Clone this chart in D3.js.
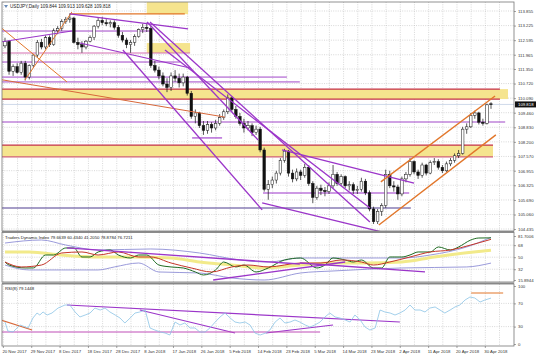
<!DOCTYPE html>
<html>
<head>
<meta charset="UTF-8" />
<title>USDJPY Daily</title>
<style>
  body { margin: 0; background: #fff; overflow: hidden; }
  svg { display: block; font-family: "Liberation Sans", Arial, sans-serif; }
  .ax text { font-size: 4.3px; fill: #333; }
  .ax path, .ax line { stroke: #666; stroke-width: 0.6; }
  .grid { stroke: #bdbdbd; stroke-width: 0.6; stroke-dasharray: 1 1.3; }
</style>
</head>
<body>
<svg width="536" height="358"></svg>
<script src="https://d3js.org/d3.v7.min.js"></script>
<script>
// ---- data ----
const dateLabels = ["20 Nov 2017", "29 Nov 2017", "8 Dec 2017", "18 Dec 2017", "28 Dec 2017", "8 Jan 2018",
  "17 Jan 2018", "26 Jan 2018", "5 Feb 2018", "14 Feb 2018", "23 Feb 2018", "5 Mar 2018", "14 Mar 2018",
  "23 Mar 2018", "2 Apr 2018", "11 Apr 2018", "20 Apr 2018", "30 Apr 2018"];
const dateBars = [0, 7, 14, 21, 28, 35, 42, 49, 56, 63, 70, 77, 84, 91, 98, 105, 112, 119];

const priceTicks = [113.855, 113.225, 112.595, 111.965, 111.350, 110.720, 110.090, 109.460,
  108.830, 108.200, 107.570, 106.955, 106.325, 105.690, 105.060, 104.435];
const tdiTicks = [81.7006, 68, 50, 32, 15.8944];
const rsiTicks = [100, 70, 30, 0];

// open, high, low, close per daily bar
const ohlc = [
  [112.35,112.70,112.25,112.55],[112.55,112.60,111.10,111.25],[111.25,111.55,111.05,111.45],[111.45,111.60,111.15,111.20],
  [111.20,111.70,111.10,111.60],[111.60,111.70,110.85,111.00],[111.00,111.55,110.90,111.50],[111.50,112.00,111.40,111.95],
  [111.95,112.60,111.85,112.50],[112.50,112.65,112.20,112.30],[112.30,112.80,112.20,112.70],[112.70,112.80,112.30,112.40],
  [112.40,113.10,112.35,113.00],[113.00,113.20,112.85,113.10],[113.10,113.50,113.00,113.40],[113.40,113.60,113.30,113.50],
  [113.50,113.75,113.35,113.55],[113.55,113.60,112.45,112.50],[112.50,112.70,112.20,112.40],[112.40,112.55,112.05,112.30],
  [112.30,112.60,112.20,112.55],[112.55,112.80,112.50,112.70],[112.70,113.25,112.60,113.20],[113.20,113.55,113.10,113.45],
  [113.45,113.60,113.25,113.35],[113.35,113.50,113.20,113.30],[113.30,113.45,113.15,113.35],[113.35,113.45,113.05,113.15],
  [113.15,113.25,112.70,112.80],[112.80,112.95,112.50,112.60],[112.60,112.70,112.25,112.40],[112.40,112.60,112.05,112.50],
  [112.50,112.85,112.35,112.75],[112.75,113.10,112.70,113.05],[113.05,113.30,112.90,113.15],[113.15,113.35,112.95,113.10],
  [113.10,113.20,111.40,111.50],[111.50,111.70,111.20,111.30],[111.30,111.45,110.90,111.05],[111.05,111.20,110.60,110.70],
  [110.70,110.95,110.35,110.55],[110.55,111.20,110.40,111.05],[111.05,111.30,110.80,110.95],[110.95,111.15,110.55,110.75],
  [110.75,111.15,110.60,111.00],[111.00,111.05,110.20,110.30],[110.30,110.40,109.20,109.30],[109.30,109.60,109.00,109.45],
  [109.45,109.50,108.80,108.90],[108.90,109.10,108.50,108.70],[108.70,109.10,108.55,108.95],[108.95,109.05,108.60,108.80],
  [108.80,109.15,108.70,109.00],[109.00,109.40,108.90,109.25],[109.25,109.60,109.15,109.50],[109.50,110.25,109.40,110.10],
  [110.10,110.15,109.50,109.60],[109.60,109.75,109.20,109.30],[109.30,109.45,108.90,109.00],[109.00,109.20,108.60,108.80],
  [108.80,109.10,108.70,108.90],[108.90,109.00,108.45,108.60],[108.60,108.90,108.50,108.75],[108.75,108.85,107.75,107.85],
  [107.85,107.95,106.05,106.15],[106.15,106.55,105.70,106.35],[106.35,106.70,106.20,106.55],[106.55,106.95,106.40,106.85],
  [106.85,107.50,106.75,107.40],[107.40,107.90,107.30,107.80],[107.80,107.85,106.70,106.85],[106.85,107.00,106.45,106.60],
  [106.60,107.05,106.50,106.90],[106.90,107.00,106.55,106.75],[106.75,107.25,106.65,107.10],[107.10,107.20,106.30,106.40],
  [106.40,106.50,105.55,105.80],[105.80,106.30,105.70,106.20],[106.20,106.35,105.90,106.10],[106.10,106.25,105.85,106.05],
  [106.05,106.45,105.95,106.30],[106.30,107.20,106.20,106.80],[106.80,106.90,106.30,106.40],[106.40,106.80,106.30,106.70],
  [106.70,106.75,106.20,106.30],[106.30,106.50,106.10,106.35],[106.35,106.45,105.95,106.10],[106.10,106.30,105.95,106.15],
  [106.15,106.65,106.05,106.50],[106.50,106.60,105.90,106.00],[106.00,106.10,105.20,105.30],[105.30,105.40,104.65,104.75],
  [104.75,105.30,104.65,105.20],[105.20,105.55,105.00,105.45],[105.45,107.00,105.35,106.80],[106.80,106.95,106.20,106.30],
  [106.30,106.50,106.05,106.25],[106.25,106.35,105.70,105.95],[105.95,106.70,105.85,106.60],[106.60,106.90,106.45,106.80],
  [106.80,107.50,106.70,107.35],[107.35,107.40,106.80,106.90],[106.90,107.00,106.60,106.75],[106.75,107.30,106.65,107.20],
  [107.20,107.25,106.75,106.85],[106.85,107.40,106.80,107.30],[107.30,107.50,107.20,107.35],[107.35,107.45,107.00,107.10],
  [107.10,107.20,106.85,106.95],[106.95,107.35,106.90,107.25],[107.25,107.50,107.15,107.40],[107.40,107.70,107.30,107.60],
  [107.60,107.85,107.50,107.70],[107.70,108.85,107.65,108.75],[108.75,109.00,108.55,108.85],[108.85,109.45,108.80,109.35],
  [109.35,109.55,109.20,109.45],[109.45,109.50,108.95,109.05],[109.05,109.20,108.90,109.00],[109.00,109.85,108.95,109.80],
  [109.844,109.913,109.628,109.818]
];
const lastPrice = 109.818;

// Traders Dynamic Index lines as [bar, value]
const tdiUpper = [[0,71.2],[9,75.7],[15,68.2],[23,60.8],[36,62.3],[48,56.3],[58,45.8],[65,42.8],[73,48.8],[85,48.8],[98,48.8],[105,53.3],[114,65.3],[120,79.66]];
const tdiLower = [[0,38.3],[6,30.9],[14,30.9],[23,30.9],[27,35.4],[33,41.3],[38,27.9],[48,26.4],[56,18.9],[64,15.9],[73,26.4],[81,29.4],[98,33.9],[114,35.4],[120,41.2]];
const tdiMid = [[0,57.8],[6,57.8],[14,53.3],[23,50.3],[31,50.3],[41,48.8],[48,42.8],[56,38.3],[64,33.9],[73,38.3],[81,41.3],[89,41.3],[98,42.8],[106,50.3],[114,56.5],[120,60.43]];
const tdiGreen = [[0,42.8],[1,38.3],[5,33.9],[7,33.9],[10,53.3],[12,53.3],[15,63.8],[17,63.8],[19,50.3],[21,50.3],[23,57.8],[26,60.8],[28,53.3],[31,48.8],[33,53.3],[35,53.3],[38,38.3],[41,35.4],[44,33.9],[47,27.9],[49,23.4],[52,30.9],[54,42.8],[57,35.4],[59,38.3],[62,27.9],[65,33.9],[69,45.8],[73,48.8],[77,33.9],[79,38.3],[81,48.8],[84,45.8],[86,42.8],[88,45.8],[91,33.9],[93,33.9],[95,50.3],[98,50.3],[100,53.3],[102,57.8],[105,57.8],[107,65.3],[110,60.8],[112,65.3],[115,75.7],[117,78.7],[120,78.88]];
const tdiRed = [[0,42.8],[4,35.4],[9,38.3],[14,56.3],[19,57.8],[23,53.3],[28,57.8],[33,50.3],[36,50.3],[41,41.3],[46,33.9],[51,27.9],[56,35.4],[60,38.3],[65,35.4],[73,41.3],[78,41.3],[83,45.8],[88,42.8],[91,38.3],[95,42.8],[100,50.3],[105,57.8],[110,60.8],[115,68.2],[120,76.72]];

// RSI(8) as [bar, value]
const rsiPts = [[0,37.9],[0.7,22.4],[2,20.7],[3.7,32.8],[5.7,27.6],[6.9,44.8],[7.9,53.4],[8.6,50],[9.4,55.2],[10.4,50],[11.6,53.4],[13.1,62],[14.8,67.2],[16,67.2],[17.3,55.2],[18.5,46.6],[19.8,50],[21,53.4],[22.2,62],[23.5,58.6],[24.7,62],[25.9,55.2],[27.2,50],[28.4,44.8],[29.6,36.2],[30.9,44.8],[32.1,53.4],[33.3,55.2],[34.6,58.6],[35.8,27.6],[37,24.1],[38.3,20.7],[39.5,19],[40.7,15.5],[42,37.9],[43.2,32.8],[44.4,36.2],[45.7,27.6],[46.9,27.6],[48.1,20.7],[49.4,20.7],[50.6,27.6],[51.9,37.9],[53.1,46.6],[54.3,53.4],[55.6,44.8],[56.8,37.9],[58,36.2],[59.3,37.9],[60.5,32.8],[61.7,19],[63,15.5],[64.4,19],[65.4,24.1],[66.7,37.9],[67.9,44.8],[69.1,36.2],[70.4,37.9],[71.6,41.4],[72.8,37.9],[74.1,32.8],[75.3,29.3],[76.5,32.8],[77.8,37.9],[79,46.6],[80.2,53.4],[81.5,46.6],[82.7,44.8],[84,41.4],[85.2,37.9],[86.4,50],[87.7,41.4],[88.9,29.3],[90.1,24.1],[91.4,27.6],[92.6,58.6],[93.8,55.2],[95.1,53.4],[96.3,50],[97.5,53.4],[98.8,58.6],[100,67.2],[101.2,58.6],[102.5,58.6],[103.7,55.2],[104.9,62],[106.2,63.8],[107.4,58.6],[108.6,53.4],[109.9,58.6],[111.1,63.8],[112.3,67.2],[113.6,75.9],[114.8,81],[116,79.3],[117.3,72.4],[118.5,75.9],[120,79.14]];

// drawn objects on the price chart
const zones = [ // [bar1, bar2, priceLow, priceHigh]
  [-1, 124.2, 110.05, 110.48], [-1, 120.5, 107.55, 108.06], [35, 45.2, 113.72, 114.4], [35, 45.7, 112.04, 112.47]
];
const levels = [ // [price, bar1, bar2, colour, width]
  [112.99, -1, 35.8, "#a046c8", 1], [112.04, -1, 45.7, "#d46fb0", 1], [111.65, -1, 43.2, "#a046c8", 1],
  [111.00, -1, 69.6, "#a046c8", 1], [110.79, -1, 72.8, "#a046c8", 1],
  [110.48, -1, 122.2, "#c53048", 1.2], [110.05, -1, 122.2, "#c53048", 1.2],
  [108.06, -1, 120.5, "#c53048", 1.2], [107.55, -1, 120.5, "#d0607a", 1.2],
  [109.06, -1, 123.5, "#a046c8", 1.1], [108.37, 46.2, 53.6, "#9b35c9", 1.1],
  [105.99, 63.7, 99.8, "#9b35c9", 1.1], [105.34, -1, 100.2, "#4e3d8f", 1.1],
  [113.73, 16, 44.4, "#e2762a", 1.1]
];
const trendLines = [ // [bar1, price1, bar2, price2, colour, width]
  [-1, 113.14, 15.3, 110.79, "#e2762a", 1], [4.9, 110.87, 16.5, 113.81, "#e2762a", 1],
  [-1, 110.89, 54.3, 109.27, "#d8683a", 1],
  [16, 113.73, 45.2, 113.08, "#9b35c9", 1.2], [-1, 112.52, 16.5, 112.99, "#9b35c9", 1.1],
  [18.5, 112.47, 45.7, 111.39, "#9b35c9", 1.1],
  [29.1, 112.17, 63.5, 105.26, "#9b35c9", 1.3], [35.1, 113.38, 62.5, 108.28, "#9b35c9", 1.3],
  [35.8, 113.38, 90.1, 104.74, "#9b35c9", 1.3], [39.5, 112.17, 90.1, 105.34, "#9b35c9", 1.3],
  [68.4, 107.85, 101, 106.42, "#9b35c9", 1.3], [63.5, 105.56, 95.1, 104.22, "#9b35c9", 1.3],
  [92.8, 106.47, 121, 110.18, "#e2762a", 1.4], [92.3, 104.61, 121.2, 108.5, "#e2762a", 1.4]
];
const tdiLines = [[15.3, 63.8, 72.8, 39.8], [51.4, 15.9, 84, 42.8], [72.8, 41.3, 103.7, 27.9]];
const rsiLines = [ // [bar1, v1, bar2, v2, colour]
  [15.3, 67.2, 97.5, 37.9, "#9b35c9"], [33.3, 58.6, 56.8, 19, "#9b35c9"], [64.4, 19, 81, 32.8, "#9b35c9"],
  [-1, 20.7, 77.8, 20.7, "#c04fb8"], [-1, 41.4, 6.7, 24.1, "#d8683a"], [115.1, 87.9, 123, 87.9, "#e2762a"]
];

// ---- layout ----
const svg = d3.select("svg");
const L = 2, R = 514;
const main = { top: 2, bottom: 231 }, tdiP = { top: 232.5, bottom: 282 }, rsiP = { top: 284, bottom: 346 };

const x = d3.scaleLinear().domain([0, 120]).range([5, 491]);
const yP = d3.scaleLinear().domain([104.435, 113.855]).range([229, 11]);
const yT = d3.scaleLinear().domain([15.8944, 81.7006]).range([280, 236]);
const yR = d3.scaleLinear().domain([0, 100]).range([344, 286]);

function panel(id, p) {
  svg.append("clipPath").attr("id", id).append("rect")
    .attr("x", L).attr("y", p.top).attr("width", R - L).attr("height", p.bottom - p.top);
  return svg.append("g").attr("clip-path", `url(#${id})`);
}
const gMain = panel("cm", main), gTdi = panel("ct", tdiP), gRsi = panel("cr", rsiP);

// vertical grid in all panels (at date ticks and half way)
const vGrid = [];
dateBars.forEach((b) => { vGrid.push(b); vGrid.push(b + 3.5); });
[[gMain, main], [gTdi, tdiP], [gRsi, rsiP]].forEach(([g, p]) => {
  g.append("g").selectAll("line").data(vGrid).join("line").attr("class", "grid")
    .attr("x1", (d) => x(d - 0.4)).attr("x2", (d) => x(d - 0.4)).attr("y1", p.top).attr("y2", p.bottom);
});
gMain.append("g").selectAll("line").data(priceTicks).join("line").attr("class", "grid")
  .attr("x1", L).attr("x2", R).attr("y1", (d) => yP(d)).attr("y2", (d) => yP(d));
gTdi.append("g").selectAll("line").data([68, 50, 32]).join("line").attr("class", "grid")
  .attr("x1", L).attr("x2", R).attr("y1", (d) => yT(d)).attr("y2", (d) => yT(d));
gRsi.append("g").selectAll("line").data([70, 30]).join("line").attr("class", "grid")
  .attr("x1", L).attr("x2", R).attr("y1", (d) => yR(d)).attr("y2", (d) => yR(d));

// yellow zones
gMain.append("g").selectAll("rect").data(zones).join("rect")
  .attr("x", (d) => x(d[0])).attr("width", (d) => x(d[1]) - x(d[0]))
  .attr("y", (d) => yP(d[3])).attr("height", (d) => yP(d[2]) - yP(d[3]))
  .attr("fill", "#f5e48e");

// bid line
gMain.append("line").attr("x1", L).attr("x2", R).attr("y1", yP(lastPrice)).attr("y2", yP(lastPrice))
  .attr("stroke", "#b9c8e0").attr("stroke-width", 0.7);

// horizontal levels
gMain.append("g").selectAll("line").data(levels).join("line")
  .attr("x1", (d) => x(d[1])).attr("x2", (d) => x(d[2]))
  .attr("y1", (d) => yP(d[0])).attr("y2", (d) => yP(d[0]))
  .attr("stroke", (d) => d[3]).attr("stroke-width", (d) => d[4]);

// candles
const candles = gMain.append("g").selectAll("g").data(ohlc).join("g");
candles.append("line")
  .attr("x1", (d, i) => x(i)).attr("x2", (d, i) => x(i))
  .attr("y1", (d) => yP(d[1])).attr("y2", (d) => yP(d[2]))
  .attr("stroke", "#111").attr("stroke-width", 0.7);
candles.append("rect")
  .attr("x", (d, i) => x(i) - 1.3).attr("width", 2.6)
  .attr("y", (d) => yP(Math.max(d[0], d[3])))
  .attr("height", (d) => Math.max(0.7, Math.abs(yP(d[0]) - yP(d[3]))))
  .attr("fill", (d) => (d[3] >= d[0] ? "#fff" : "#111"))
  .attr("stroke", "#111").attr("stroke-width", 0.5);

// trend lines
gMain.append("g").selectAll("line").data(trendLines).join("line")
  .attr("x1", (d) => x(d[0])).attr("y1", (d) => yP(d[1]))
  .attr("x2", (d) => x(d[2])).attr("y2", (d) => yP(d[3]))
  .attr("stroke", (d) => d[4]).attr("stroke-width", (d) => d[5]);

// TDI
const lineT = d3.line().x((d) => x(d[0])).y((d) => yT(d[1])).curve(d3.curveMonotoneX);
gTdi.append("path").attr("d", lineT(tdiMid)).attr("fill", "none").attr("stroke", "#f2ea8a").attr("stroke-width", 3);
gTdi.append("path").attr("d", lineT(tdiUpper)).attr("fill", "none").attr("stroke", "#8f8fd6").attr("stroke-width", 0.9);
gTdi.append("path").attr("d", lineT(tdiLower)).attr("fill", "none").attr("stroke", "#8f8fd6").attr("stroke-width", 0.9);
gTdi.append("path").attr("d", lineT(tdiGreen)).attr("fill", "none").attr("stroke", "#1e6b22").attr("stroke-width", 1);
gTdi.append("path").attr("d", lineT(tdiRed)).attr("fill", "none").attr("stroke", "#c5362a").attr("stroke-width", 1);
gTdi.append("g").selectAll("line").data(tdiLines).join("line")
  .attr("x1", (d) => x(d[0])).attr("y1", (d) => yT(d[1]))
  .attr("x2", (d) => x(d[2])).attr("y2", (d) => yT(d[3]))
  .attr("stroke", "#9b35c9").attr("stroke-width", 1.3);

// RSI
const lineR = d3.line().x((d) => x(d[0])).y((d) => yR(d[1]));
gRsi.append("g").selectAll("line").data(rsiLines).join("line")
  .attr("x1", (d) => x(d[0])).attr("y1", (d) => yR(d[1]))
  .attr("x2", (d) => x(d[2])).attr("y2", (d) => yR(d[3]))
  .attr("stroke", (d) => d[4]).attr("stroke-width", 1.2);
gRsi.append("path").attr("d", lineR(rsiPts)).attr("fill", "none").attr("stroke", "#8cc4e6").attr("stroke-width", 0.8);

// panel frames
[main, tdiP, rsiP].forEach((p) => {
  svg.append("rect").attr("x", L).attr("y", p.top).attr("width", R - L).attr("height", p.bottom - p.top)
    .attr("fill", "none").attr("stroke", "#777").attr("stroke-width", 0.8);
});
svg.append("line").attr("x1", L).attr("x2", R).attr("y1", 231.7).attr("y2", 231.7).attr("stroke", "#888").attr("stroke-width", 1.6);
svg.append("line").attr("x1", L).attr("x2", R).attr("y1", 283.2).attr("y2", 283.2).attr("stroke", "#888").attr("stroke-width", 1.6);

// axes
function styleAx(g) { g.attr("class", "ax"); g.select(".domain").remove(); }
svg.append("g").attr("transform", `translate(${R},0)`)
  .call(d3.axisRight(yP).tickValues(priceTicks).tickFormat(d3.format(".3f")).tickSize(2).tickPadding(2)).call(styleAx);
svg.append("g").attr("transform", `translate(${R},0)`)
  .call(d3.axisRight(yT).tickValues(tdiTicks).tickFormat((d) => (Number.isInteger(d) ? d : d.toFixed(4))).tickSize(2).tickPadding(2)).call(styleAx);
svg.append("g").attr("transform", `translate(${R},0)`)
  .call(d3.axisRight(yR).tickValues(rsiTicks).tickSize(2).tickPadding(2)).call(styleAx);
const xAx = svg.append("g").attr("transform", `translate(0,${rsiP.bottom})`)
  .call(d3.axisBottom(x).tickValues(dateBars).tickFormat((d, i) => dateLabels[i]).tickSize(2).tickPadding(2)).call(styleAx);
xAx.selectAll(".tick").attr("transform", (d) => `translate(${x(d - 0.4)},0)`);
xAx.selectAll("text").attr("text-anchor", "start").attr("x", -1);

// current price marker
const cp = svg.append("g").attr("transform", `translate(${R + 1},${yP(lastPrice)})`);
cp.append("rect").attr("x", 0).attr("y", -3).attr("width", 21).attr("height", 6).attr("fill", "#111");
cp.append("text").attr("x", 3).attr("y", 1.5).attr("font-size", 4.3).attr("fill", "#fff").text(lastPrice.toFixed(3));

// titles
svg.append("path").attr("d", "M4,5 L8,5 L6,8 Z").attr("fill", "#6a8bb8");
svg.append("text").attr("x", 10).attr("y", 8).attr("font-size", 4.6).attr("fill", "#222")
  .text("USDJPY,Daily  109.844 109.913 109.628 109.818");
svg.append("text").attr("x", 5).attr("y", 238.5).attr("font-size", 4.3).attr("fill", "#222")
  .text("Traders Dynamic Index 79.6639 60.4340 41.2050 78.8784 76.7211");
svg.append("text").attr("x", 5).attr("y", 290).attr("font-size", 4.3).attr("fill", "#222")
  .text("RSI(8) 79.1448");
</script>
</body>
</html>
